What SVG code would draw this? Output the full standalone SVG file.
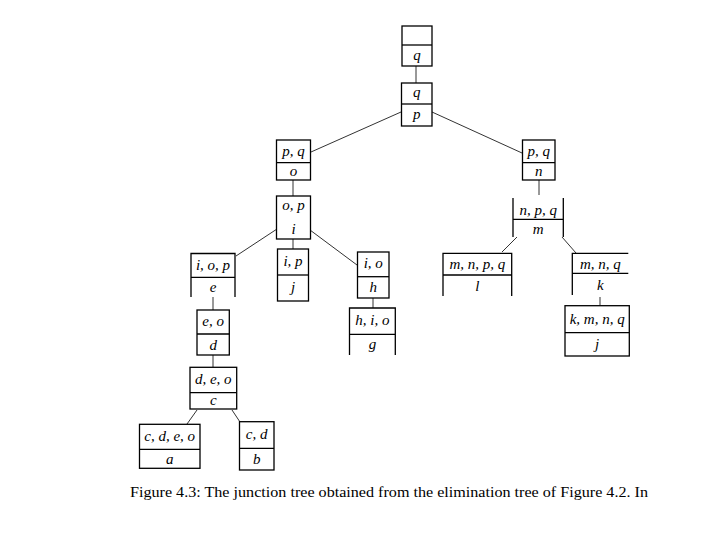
<svg xmlns="http://www.w3.org/2000/svg" width="720" height="540" viewBox="0 0 720 540">
<style>
.b{fill:none;stroke:#000;stroke-width:1.3}
.c{fill:none;stroke:#333;stroke-width:1}
.t{font-family:"Liberation Serif","DejaVu Serif",serif;font-style:italic;font-size:15px;fill:#000;text-anchor:middle}
.cap{font-family:"Liberation Serif","DejaVu Serif",serif;font-size:14px;fill:#000}
</style>
<rect width="720" height="540" fill="#fff"/>
<g id="connectors">
<line class="c" x1="416" y1="66" x2="416" y2="83"/>
<line class="c" x1="401" y1="112" x2="311" y2="152"/>
<line class="c" x1="432" y1="112" x2="522" y2="153"/>
<line class="c" x1="293" y1="180" x2="293" y2="196"/>
<line class="c" x1="293" y1="239" x2="293" y2="249"/>
<line class="c" x1="277" y1="229" x2="236" y2="256"/>
<line class="c" x1="310" y1="230" x2="357" y2="265"/>
<line class="c" x1="373" y1="298" x2="373" y2="308"/>
<line class="c" x1="213" y1="297" x2="213" y2="310"/>
<line class="c" x1="213" y1="355" x2="213" y2="367"/>
<line class="c" x1="197" y1="410" x2="187" y2="424"/>
<line class="c" x1="232" y1="410" x2="240" y2="422"/>
<line class="c" x1="539" y1="180" x2="539" y2="195"/>
<line class="c" x1="517" y1="237" x2="502" y2="252"/>
<line class="c" x1="562" y1="237" x2="576" y2="253"/>
<line class="c" x1="600" y1="297" x2="600" y2="305"/>
</g>
<g id="node-top">
<rect class="b" x="402" y="26" width="30" height="40"/>
<line class="b" x1="402" y1="45" x2="432" y2="45"/>
<text class="t" x="417" y="60">q</text>
</g>
<g id="node-p">
<rect class="b" x="401.5" y="83" width="30.5" height="43"/>
<line class="b" x1="401.5" y1="104" x2="432" y2="104"/>
<text class="t" x="416.7" y="97">q</text>
<text class="t" x="416.7" y="119">p</text>
</g>
<g id="node-o">
<rect class="b" x="276.5" y="140" width="34" height="40"/>
<line class="b" x1="276.5" y1="162.7" x2="310.5" y2="162.7"/>
<text class="t" x="293.5" y="156">p, q</text>
<text class="t" x="293.5" y="176">o</text>
</g>
<g id="node-i">
<rect class="b" x="276.5" y="196" width="34" height="43"/>
<text class="t" x="293.5" y="210">o, p</text>
<text class="t" x="293.5" y="234">i</text>
</g>
<g id="node-j1">
<rect class="b" x="277.5" y="249" width="31" height="52"/>
<line class="b" x1="277.5" y1="275" x2="308.5" y2="275"/>
<text class="t" x="293" y="266">i, p</text>
<text class="t" x="293" y="292">j</text>
</g>
<g id="node-h">
<rect class="b" x="357.5" y="252" width="31.5" height="46"/>
<line class="b" x1="357.5" y1="276.7" x2="389" y2="276.7"/>
<text class="t" x="373.3" y="268">i, o</text>
<text class="t" x="373.3" y="292">h</text>
</g>
<g id="node-g">
<path class="b" d="M349.5,355 V308 H395.3 V355 M349.5,334.3 H395.3"/>
<text class="t" x="372.4" y="325">h, i, o</text>
<text class="t" x="372.4" y="349">g</text>
</g>
<g id="node-e">
<path class="b" d="M191,297 V253.5 H235 V297 M191,277.3 H235"/>
<text class="t" x="213" y="270">i, o, p</text>
<text class="t" x="213" y="292">e</text>
</g>
<g id="node-d">
<rect class="b" x="197" y="310" width="32.3" height="45"/>
<line class="b" x1="197" y1="334" x2="229.3" y2="334"/>
<text class="t" x="213.2" y="326">e, o</text>
<text class="t" x="213.2" y="350">d</text>
</g>
<g id="node-c">
<rect class="b" x="190" y="367.3" width="46.7" height="41.7"/>
<line class="b" x1="190" y1="392.7" x2="236.7" y2="392.7"/>
<text class="t" x="213.3" y="384">d, e, o</text>
<text class="t" x="213.3" y="405">c</text>
</g>
<g id="node-a">
<rect class="b" x="139.5" y="424.3" width="60.5" height="44"/>
<line class="b" x1="139.5" y1="449.3" x2="200" y2="449.3"/>
<text class="t" x="169.7" y="441">c, d, e, o</text>
<text class="t" x="169.7" y="464">a</text>
</g>
<g id="node-b">
<rect class="b" x="239.5" y="421.7" width="34.5" height="48.3"/>
<line class="b" x1="239.5" y1="448.3" x2="274" y2="448.3"/>
<text class="t" x="256.7" y="439">c, d</text>
<text class="t" x="256.7" y="464">b</text>
</g>
<g id="node-n">
<rect class="b" x="522.5" y="140" width="32.5" height="40"/>
<line class="b" x1="522.5" y1="162.7" x2="555" y2="162.7"/>
<text class="t" x="538.8" y="156">p, q</text>
<text class="t" x="538.8" y="176">n</text>
</g>
<g id="node-m">
<path class="b" d="M513,198 V237 M563.3,198 V237 M513,219.3 H563.3"/>
<text class="t" x="538.2" y="215">n, p, q</text>
<text class="t" x="538.2" y="234">m</text>
</g>
<g id="node-l">
<path class="b" d="M443,296 V253.3 H511.7 V296 M443,275 H511.7"/>
<text class="t" x="477.3" y="269">m, n, p, q</text>
<text class="t" x="477.3" y="291">l</text>
</g>
<g id="node-k">
<path class="b" d="M572.3,295 V253.3 H628.3 M572.3,273.3 H628.3"/>
<text class="t" x="600.3" y="269">m, n, q</text>
<text class="t" x="600.3" y="290">k</text>
</g>
<g id="node-j2">
<rect class="b" x="565" y="305.7" width="64.3" height="50.3"/>
<line class="b" x1="565" y1="332.7" x2="629.3" y2="332.7"/>
<text class="t" x="597.2" y="324">k, m, n, q</text>
<text class="t" x="597.2" y="349">j</text>
</g>
<text class="cap" x="130" y="497" textLength="518" lengthAdjust="spacingAndGlyphs">Figure 4.3: The junction tree obtained from the elimination tree of Figure 4.2. In</text>
</svg>
